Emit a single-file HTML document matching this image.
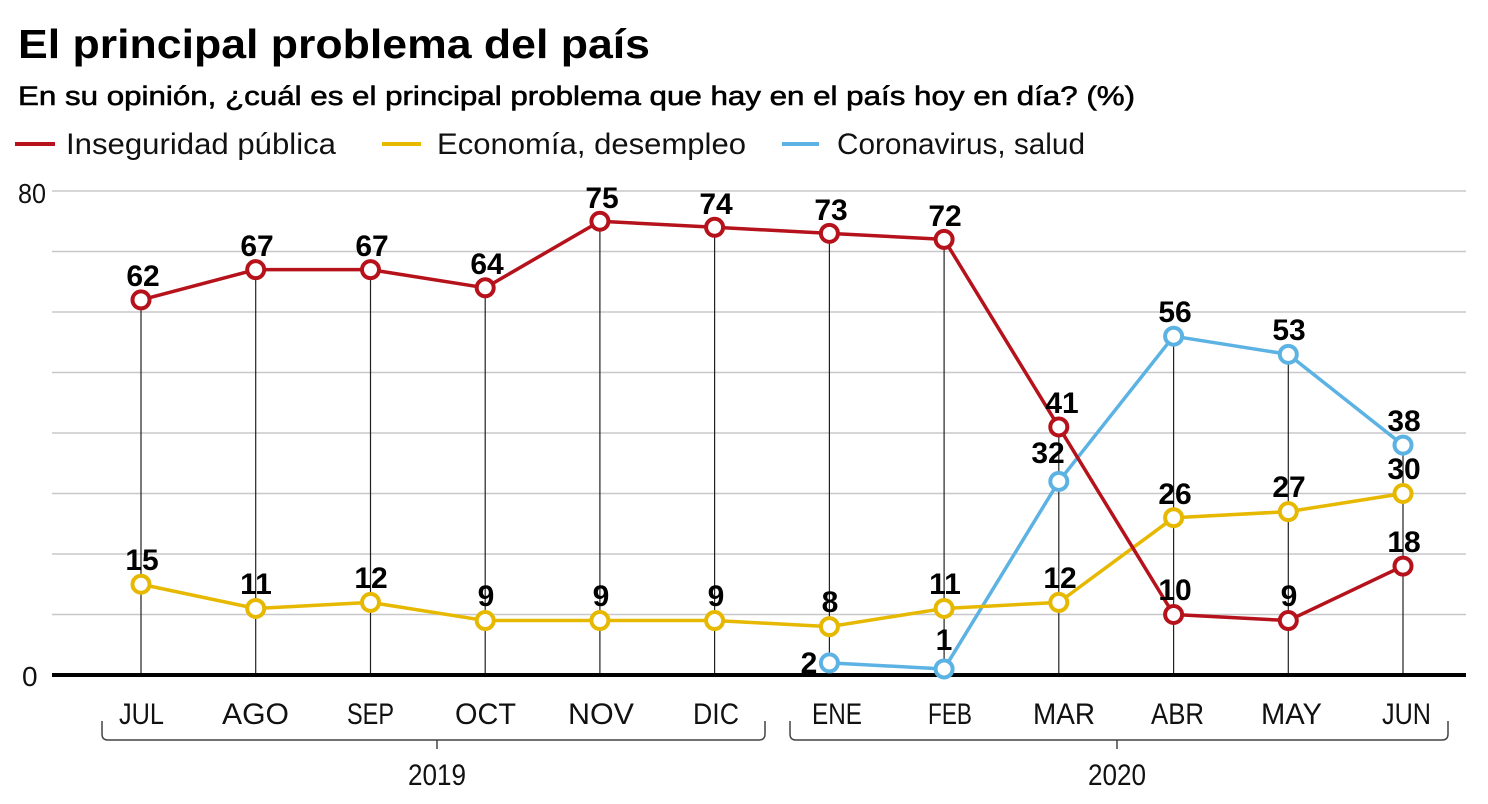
<!DOCTYPE html>
<html>
<head>
<meta charset="utf-8">
<style>
html,body{margin:0;padding:0;background:#fff;}
svg{display:block;}
text{font-family:"Liberation Sans",sans-serif;}
.lbl{font-weight:bold;font-size:30px;fill:#000;text-anchor:middle;}
.mon{font-size:30px;fill:#111;text-anchor:middle;}
</style>
</head>
<body>
<svg width="1488" height="804" viewBox="0 0 1488 804" xmlns="http://www.w3.org/2000/svg">
<rect width="1488" height="804" fill="#fff"/>
<!-- Title -->
<text x="18" y="58" font-size="41" font-weight="bold" fill="#000" textLength="632" lengthAdjust="spacingAndGlyphs">El principal problema del país</text>
<text x="18" y="105" font-size="27" fill="#000" stroke="#000" stroke-width="0.6" textLength="1117" lengthAdjust="spacingAndGlyphs">En su opinión, ¿cuál es el principal problema que hay en el país hoy en día? (%)</text>
<!-- Legend -->
<line x1="15" y1="144" x2="55" y2="144" stroke="#b5121b" stroke-width="4"/>
<text x="66" y="154" font-size="30" fill="#111" textLength="270" lengthAdjust="spacingAndGlyphs">Inseguridad pública</text>
<line x1="382" y1="144" x2="421" y2="144" stroke="#e6b800" stroke-width="4"/>
<text x="437" y="154" font-size="30" fill="#111" textLength="309" lengthAdjust="spacingAndGlyphs">Economía, desempleo</text>
<line x1="782" y1="144" x2="819" y2="144" stroke="#5cb3e3" stroke-width="4"/>
<text x="837" y="154" font-size="30" fill="#111" textLength="248" lengthAdjust="spacingAndGlyphs">Coronavirus, salud</text>

<!-- Gridlines -->
<g stroke="#c8c8cc" stroke-width="1.5">
<line x1="52" y1="191" x2="1466" y2="191"/>
<line x1="52" y1="251.5" x2="1466" y2="251.5"/>
<line x1="52" y1="312" x2="1466" y2="312"/>
<line x1="52" y1="372.5" x2="1466" y2="372.5"/>
<line x1="52" y1="433" x2="1466" y2="433"/>
<line x1="52" y1="493.5" x2="1466" y2="493.5"/>
<line x1="52" y1="554" x2="1466" y2="554"/>
<line x1="52" y1="614.5" x2="1466" y2="614.5"/>
</g>
<text x="18" y="203" font-size="28" fill="#111" textLength="28" lengthAdjust="spacingAndGlyphs">80</text>
<text x="22" y="686" font-size="28" fill="#111">0</text>

<!-- Vertical lines -->
<g stroke="#222" stroke-width="1.2">
<line x1="141" y1="300" x2="141" y2="675"/>
<line x1="255.7" y1="270" x2="255.7" y2="675"/>
<line x1="370.5" y1="270" x2="370.5" y2="675"/>
<line x1="485.2" y1="288" x2="485.2" y2="675"/>
<line x1="599.9" y1="221" x2="599.9" y2="675"/>
<line x1="714.6" y1="227" x2="714.6" y2="675"/>
<line x1="829.4" y1="233" x2="829.4" y2="675"/>
<line x1="944.1" y1="239" x2="944.1" y2="675"/>
<line x1="1058.8" y1="427" x2="1058.8" y2="675"/>
<line x1="1173.6" y1="336" x2="1173.6" y2="675"/>
<line x1="1288.3" y1="354" x2="1288.3" y2="675"/>
<line x1="1403" y1="445" x2="1403" y2="675"/>
</g>
<!-- Zero axis -->
<line x1="52" y1="675" x2="1466" y2="675" stroke="#000" stroke-width="4"/>

<!-- Series lines -->
<polyline fill="none" stroke="#5cb3e3" stroke-width="3.5" stroke-linejoin="round" points="829.4,662.9 944.1,668.95 1058.8,481.4 1173.6,336.2 1288.3,354.35 1403,445.1"/>
<polyline fill="none" stroke="#e6b800" stroke-width="3.5" stroke-linejoin="round" points="141,584.25 255.7,608.45 370.5,602.4 485.2,620.55 599.9,620.55 714.6,620.55 829.4,626.6 944.1,608.45 1058.8,602.4 1173.6,517.7 1288.3,511.65 1403,493.5"/>
<polyline fill="none" stroke="#b5121b" stroke-width="3.5" stroke-linejoin="round" points="141,299.9 255.7,269.65 370.5,269.65 485.2,287.8 599.9,221.25 714.6,227.3 829.4,233.35 944.1,239.4 1058.8,426.95 1173.6,614.5 1288.3,620.55 1403,566.1"/>

<!-- Markers -->
<g fill="#fff" stroke="#5cb3e3" stroke-width="4">
<circle cx="829.4" cy="662.9" r="8.5"/>
<circle cx="944.1" cy="668.95" r="8.5"/>
<circle cx="1058.8" cy="481.4" r="8.5"/>
<circle cx="1173.6" cy="336.2" r="8.5"/>
<circle cx="1288.3" cy="354.35" r="8.5"/>
<circle cx="1403" cy="445.1" r="8.5"/>
</g>
<g fill="#fff" stroke="#e6b800" stroke-width="4">
<circle cx="141" cy="584.25" r="8.5"/>
<circle cx="255.7" cy="608.45" r="8.5"/>
<circle cx="370.5" cy="602.4" r="8.5"/>
<circle cx="485.2" cy="620.55" r="8.5"/>
<circle cx="599.9" cy="620.55" r="8.5"/>
<circle cx="714.6" cy="620.55" r="8.5"/>
<circle cx="829.4" cy="626.6" r="8.5"/>
<circle cx="944.1" cy="608.45" r="8.5"/>
<circle cx="1058.8" cy="602.4" r="8.5"/>
<circle cx="1173.6" cy="517.7" r="8.5"/>
<circle cx="1288.3" cy="511.65" r="8.5"/>
<circle cx="1403" cy="493.5" r="8.5"/>
</g>
<g fill="#fff" stroke="#b5121b" stroke-width="4">
<circle cx="141" cy="299.9" r="8.5"/>
<circle cx="255.7" cy="269.65" r="8.5"/>
<circle cx="370.5" cy="269.65" r="8.5"/>
<circle cx="485.2" cy="287.8" r="8.5"/>
<circle cx="599.9" cy="221.25" r="8.5"/>
<circle cx="714.6" cy="227.3" r="8.5"/>
<circle cx="829.4" cy="233.35" r="8.5"/>
<circle cx="944.1" cy="239.4" r="8.5"/>
<circle cx="1058.8" cy="426.95" r="8.5"/>
<circle cx="1173.6" cy="614.5" r="8.5"/>
<circle cx="1288.3" cy="620.55" r="8.5"/>
<circle cx="1403" cy="566.1" r="8.5"/>
</g>

<!-- Value labels: red -->
<text class="lbl" x="143" y="286">62</text>
<text class="lbl" x="257" y="256">67</text>
<text class="lbl" x="372" y="256">67</text>
<text class="lbl" x="487" y="274">64</text>
<text class="lbl" x="602" y="208">75</text>
<text class="lbl" x="716" y="214">74</text>
<text class="lbl" x="831" y="220">73</text>
<text class="lbl" x="945" y="226">72</text>
<text class="lbl" x="1062" y="413">41</text>
<text class="lbl" x="1175" y="600">10</text>
<text class="lbl" x="1289" y="606">9</text>
<text class="lbl" x="1404" y="552">18</text>
<!-- yellow -->
<text class="lbl" x="142" y="570">15</text>
<text class="lbl" x="256" y="594">11</text>
<text class="lbl" x="371" y="588">12</text>
<text class="lbl" x="486" y="606">9</text>
<text class="lbl" x="601" y="606">9</text>
<text class="lbl" x="716" y="606">9</text>
<text class="lbl" x="830" y="612">8</text>
<text class="lbl" x="945" y="594">11</text>
<text class="lbl" x="1060" y="588">12</text>
<text class="lbl" x="1175" y="504">26</text>
<text class="lbl" x="1289" y="497">27</text>
<text class="lbl" x="1404" y="479">30</text>
<!-- blue -->
<text class="lbl" x="809" y="673">2</text>
<text class="lbl" x="944" y="650">1</text>
<text class="lbl" x="1048" y="463">32</text>
<text class="lbl" x="1175" y="322">56</text>
<text class="lbl" x="1289" y="340">53</text>
<text class="lbl" x="1404" y="431">38</text>

<!-- Month labels -->
<text class="mon" x="141.5" y="724" textLength="45" lengthAdjust="spacingAndGlyphs">JUL</text>
<text class="mon" x="255.5" y="724" textLength="67" lengthAdjust="spacingAndGlyphs">AGO</text>
<text class="mon" x="370.5" y="724" textLength="47" lengthAdjust="spacingAndGlyphs">SEP</text>
<text class="mon" x="485.5" y="724" textLength="61" lengthAdjust="spacingAndGlyphs">OCT</text>
<text class="mon" x="601" y="724" textLength="66" lengthAdjust="spacingAndGlyphs">NOV</text>
<text class="mon" x="716" y="724" textLength="46" lengthAdjust="spacingAndGlyphs">DIC</text>
<text class="mon" x="837" y="724" textLength="50" lengthAdjust="spacingAndGlyphs">ENE</text>
<text class="mon" x="950" y="724" textLength="44" lengthAdjust="spacingAndGlyphs">FEB</text>
<text class="mon" x="1064" y="724" textLength="62" lengthAdjust="spacingAndGlyphs">MAR</text>
<text class="mon" x="1177.5" y="724" textLength="53" lengthAdjust="spacingAndGlyphs">ABR</text>
<text class="mon" x="1291.5" y="724" textLength="61" lengthAdjust="spacingAndGlyphs">MAY</text>
<text class="mon" x="1406.5" y="724" textLength="49" lengthAdjust="spacingAndGlyphs">JUN</text>

<!-- Brackets -->
<g fill="none" stroke="#444" stroke-width="1.5">
<path d="M102,721 V734 Q102,740 108,740 H759 Q765,740 765,734 V721"/>
<line x1="437" y1="740" x2="437" y2="749"/>
<path d="M790,721 V734 Q790,740 796,740 H1442 Q1448,740 1448,734 V721"/>
<line x1="1117" y1="740" x2="1117" y2="749"/>
</g>
<text class="mon" x="437" y="785" textLength="58" lengthAdjust="spacingAndGlyphs">2019</text>
<text class="mon" x="1117" y="785" textLength="58" lengthAdjust="spacingAndGlyphs">2020</text>
</svg>
</body>
</html>
